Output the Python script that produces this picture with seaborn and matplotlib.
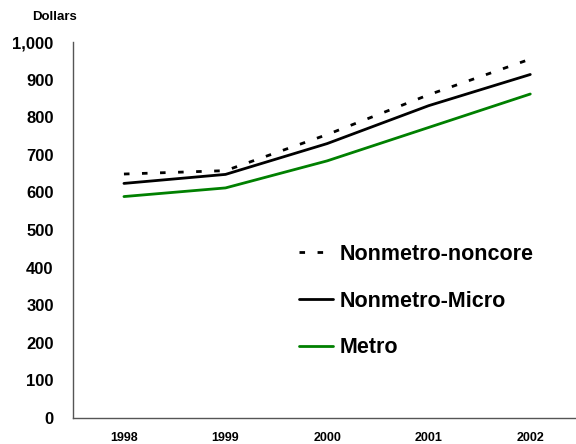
import pandas as pd
import matplotlib
matplotlib.use("Agg")
import matplotlib.pyplot as plt
import seaborn as sns

# data
years = ["1998", "1999", "2000", "2001", "2002"]
noncore = [649, 658, 754, 860, 955]
micro = [624, 648, 730, 831, 914]
metro = [589, 612, 684, 773, 862]
series_names = ["Nonmetro-noncore", "Nonmetro-Micro", "Metro"]

df = pd.DataFrame({
    "year": years * 3,
    "x": list(range(len(years))) * 3,
    "value": noncore + micro + metro,
    "series": [s for s in series_names for _ in years],
})

sns.set_theme(style="white")
plt.rcParams["font.family"] = ["Liberation Sans", "DejaVu Sans"]
plt.rcParams["font.weight"] = "bold"
plt.rcParams["text.color"] = "black"
plt.rcParams["xtick.color"] = "black"
plt.rcParams["ytick.color"] = "black"

fig = plt.figure(figsize=(5.76, 4.44), dpi=100)
ax = fig.add_axes([0.127, 0.059, 0.873, 0.846])

palette = {"Nonmetro-noncore": "black", "Nonmetro-Micro": "black", "Metro": "#008000"}
dashes = {"Nonmetro-noncore": (2, 4.5), "Nonmetro-Micro": "", "Metro": ""}
sns.lineplot(data=df, x="x", y="value", hue="series", style="series",
             palette=palette, dashes=dashes, linewidth=2, ax=ax)

ax.set_xlim(-0.5, 4.45)
ax.set_ylim(0, 1000)
ax.set_xticks(range(len(years)))
ax.set_xticklabels(years, fontsize=9, fontweight="bold")
ax.set_yticks(range(0, 1001, 100))
ax.set_yticklabels([f"{v:,}" for v in range(0, 1001, 100)], fontsize=12, fontweight="bold")
ax.tick_params(axis="both", length=0)
ax.tick_params(axis="y", pad=14)
ax.tick_params(axis="x", pad=10)
ax.set_xlabel("")
ax.set_ylabel("")

for side in ["top", "right"]:
    ax.spines[side].set_visible(False)
for side in ["left", "bottom"]:
    ax.spines[side].set_color("#555555")
    ax.spines[side].set_linewidth(1)

leg = ax.legend(title=None, loc="upper left", bbox_to_anchor=(0.41, 0.515),
                frameon=False, handlelength=1.6, handletextpad=0.3,
                labelspacing=1.2, prop={"weight": "bold", "size": 15.5})

fig.text(0.095, 0.962, "Dollars", ha="center", va="center", fontsize=9.5, fontweight="bold")

fig.savefig("out.png", dpi=100)
